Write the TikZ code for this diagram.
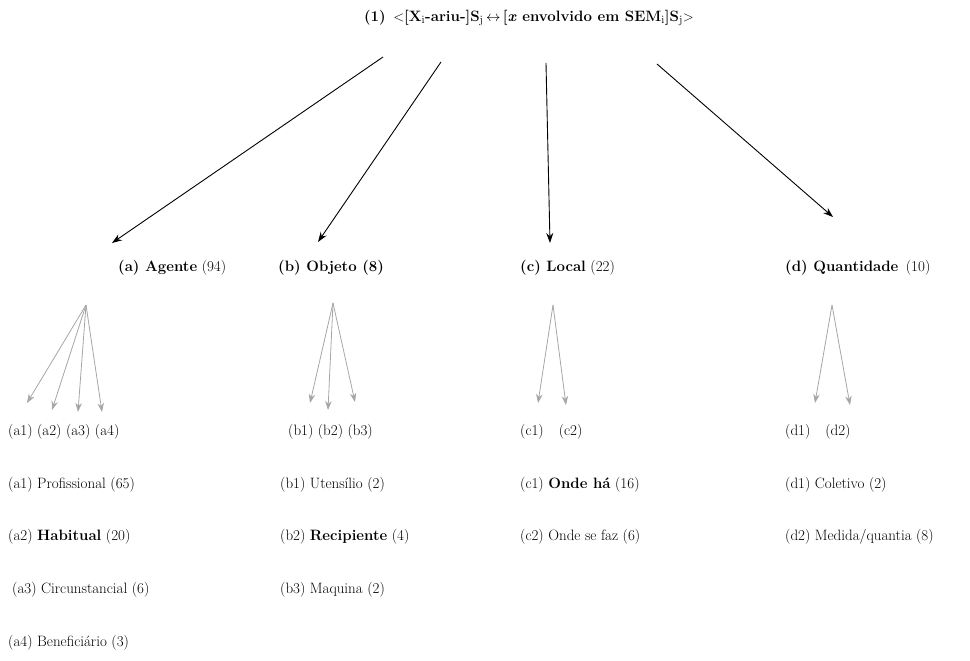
\documentclass[tikz,border=0pt]{standalone}
\usetikzlibrary{arrows.meta}
\begin{document}
\begin{tikzpicture}[x=1pt,y=-1pt,
  txt/.style={anchor=west,inner sep=0pt,font=\fontsize{15}{17}\selectfont},
  main/.style={-{Stealth[length=10pt,width=7pt]},black,line width=0.9pt},
  sub/.style={-{Stealth[length=9pt,width=6.5pt]},gray!70,line width=0.8pt}]
\useasboundingbox (0,0) rectangle (970,661);
% top
\node[txt,anchor=center,font=\fontsize{15}{17}\selectfont\bfseries] (top) at (529,18)
  {(1)\enspace $<$[X$_{\mathrm{i}}$-ariu-]S$_{\mathrm{j}}$\,$\leftrightarrow$\,[\textit{x} envolvido em SEM$_{\mathrm{i}}$]S$_{\mathrm{j}}$$>$};
\coordinate (s1) at (383,57);
\coordinate (s2) at (441,62);
\coordinate (s3) at (546,63);
\coordinate (s4) at (657,64);
\coordinate (e1) at (112,243);
\coordinate (e2) at (318,242);
\coordinate (e3) at (550,243);
\coordinate (e4) at (833,217);
\draw[main] (s1) -- (e1);
\draw[main] (s2) -- (e2);
\draw[main] (s3) -- (e3);
\draw[main] (s4) -- (e4);
% categories
\node[txt] (ca) at (118,268) {\textbf{(a) Agente} (94)};
\node[txt] (cb) at (278,268) {\textbf{(b) Objeto (8)}};
\node[txt] (cc) at (520,268) {\textbf{(c) Local} (22)};
\node[txt] (cd) at (785,268) {\textbf{(d) Quantidade}\enspace(10)};
% sub arrows
\coordinate (pa) at (86,305);
\coordinate (pb) at (333,303);
\coordinate (pc) at (553,305);
\coordinate (pd) at (832,305);
\coordinate (a1e) at (27,403);
\coordinate (a2e) at (52,410);
\coordinate (a3e) at (78,412);
\coordinate (a4e) at (102,412);
\coordinate (b1e) at (310,403);
\coordinate (b2e) at (328,410);
\coordinate (b3e) at (355,402);
\coordinate (c1e) at (538,403);
\coordinate (c2e) at (566,405);
\coordinate (d1e) at (815,403);
\coordinate (d2e) at (850,405);
\foreach \e in {a1e,a2e,a3e,a4e} \draw[sub] (pa) -- (\e);
\foreach \e in {b1e,b2e,b3e} \draw[sub] (pb) -- (\e);
\foreach \e in {c1e,c2e} \draw[sub] (pc) -- (\e);
\foreach \e in {d1e,d2e} \draw[sub] (pd) -- (\e);
% label rows
\node[txt] (la) at (8,432) {(a1) (a2) (a3) (a4)};
\node[txt] (lb) at (288,432) {(b1) (b2) (b3)};
\node[txt] (lc) at (520,432) {(c1)\quad(c2)};
\node[txt] (ld) at (785,432) {(d1)\quad(d2)};
% descriptions
\node[txt] (a1) at (8,485) {(a1) Profissional (65)};
\node[txt] (a2) at (8,537) {(a2) \textbf{Habitual} (20)};
\node[txt] (a3) at (12,590) {(a3) Circunstancial (6)};
\node[txt] (a4) at (8,643) {(a4) Beneficiário (3)};
\node[txt] (b1) at (280,485) {(b1) Utensílio (2)};
\node[txt] (b2) at (280,537) {(b2) \textbf{Recipiente} (4)};
\node[txt] (b3) at (280,590) {(b3) Maquina (2)};
\node[txt] (c1) at (520,485) {(c1) \textbf{Onde há} (16)};
\node[txt] (c2) at (520,537) {(c2) Onde se faz (6)};
\node[txt] (d1) at (785,485) {(d1) Coletivo (2)};
\node[txt] (d2) at (785,537) {(d2) Medida/quantia (8)};
\end{tikzpicture}
\end{document}
